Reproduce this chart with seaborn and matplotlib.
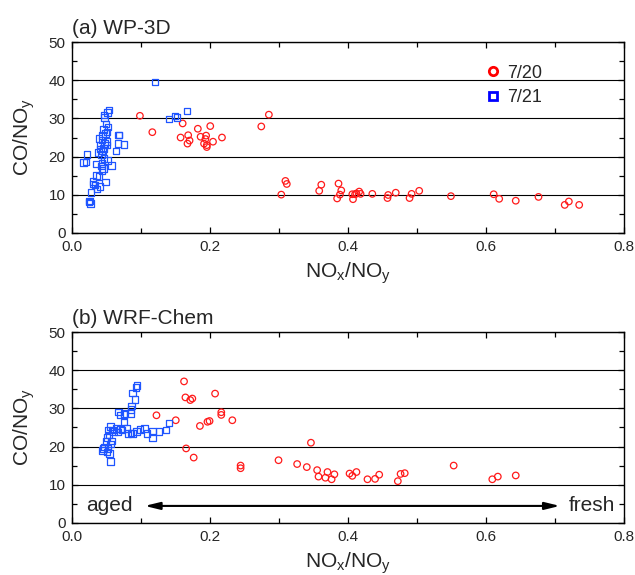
import matplotlib
matplotlib.use("Agg")
import matplotlib.pyplot as plt
from matplotlib.lines import Line2D
from matplotlib.ticker import MultipleLocator, FormatStrFormatter
import seaborn as sns
import pandas as pd

# (a) WP-3D observations
obs_0720_x = [0.098, 0.116, 0.160, 0.182, 0.200, 0.157, 0.168, 0.170, 0.167, 0.186,
              0.194, 0.193, 0.191, 0.195, 0.195, 0.204, 0.217, 0.274, 0.285, 0.303,
              0.309, 0.311, 0.361, 0.358, 0.386, 0.390, 0.388, 0.384, 0.407, 0.406,
              0.410, 0.412, 0.416, 0.418, 0.435, 0.457, 0.458, 0.469, 0.489, 0.492,
              0.503, 0.549, 0.611, 0.619, 0.643, 0.676, 0.714, 0.720, 0.735]
obs_0720_y = [30.7, 26.4, 28.7, 27.3, 28.0, 25.0, 25.6, 24.2, 23.4, 25.2,
              25.5, 24.6, 23.4, 23.0, 22.5, 23.9, 25.0, 27.9, 31.0, 10.0,
              13.6, 12.8, 12.6, 11.0, 12.9, 11.1, 10.0, 9.0, 8.8, 10.1,
              10.1, 10.3, 10.8, 10.2, 10.2, 9.1, 9.9, 10.5, 9.1, 10.2,
              11.0, 9.6, 10.1, 8.9, 8.4, 9.4, 7.3, 8.2, 7.3]
obs_0721_x = [0.120, 0.140, 0.149, 0.152, 0.166, 0.053, 0.051, 0.046, 0.047, 0.052,
              0.045, 0.050, 0.039, 0.043, 0.047, 0.040, 0.045, 0.038, 0.042, 0.050,
              0.067, 0.068, 0.066, 0.075, 0.063, 0.021, 0.016, 0.020, 0.034, 0.043,
              0.051, 0.057, 0.045, 0.043, 0.039, 0.030, 0.033, 0.040, 0.036, 0.048,
              0.030, 0.027, 0.025, 0.026, 0.024, 0.044, 0.048, 0.041, 0.049, 0.046,
              0.044, 0.050, 0.042, 0.035]
obs_0721_y = [39.6, 29.8, 30.7, 30.2, 32.0, 32.2, 31.6, 30.9, 30.3, 27.8,
              27.1, 26.5, 24.8, 24.3, 23.4, 23.0, 22.1, 21.0, 20.6, 23.0,
              25.6, 25.6, 23.4, 23.2, 21.5, 20.6, 18.4, 18.6, 18.0, 18.2,
              18.9, 17.6, 16.9, 16.3, 14.7, 13.4, 12.5, 12.2, 11.5, 13.3,
              12.8, 10.5, 8.3, 7.7, 8.0, 25.5, 26.0, 22.0, 28.5, 19.5,
              21.5, 24.0, 17.5, 15.0]

# (b) WRF-Chem model
wrf_0720_x = [0.122, 0.150, 0.162, 0.164, 0.171, 0.174, 0.207, 0.165, 0.176, 0.185,
              0.196, 0.199, 0.216, 0.216, 0.232, 0.244, 0.244, 0.299, 0.326, 0.340,
              0.346, 0.355, 0.357, 0.367, 0.370, 0.376, 0.380, 0.402, 0.406, 0.412,
              0.428, 0.439, 0.445, 0.472, 0.476, 0.482, 0.553, 0.609, 0.617, 0.643]
wrf_0720_y = [28.2, 26.9, 37.1, 32.9, 32.2, 32.6, 33.9, 19.5, 17.1, 25.4,
              26.5, 26.7, 28.3, 29.0, 26.9, 15.0, 14.3, 16.4, 15.4, 14.6,
              21.0, 13.8, 12.1, 11.8, 13.3, 11.4, 12.7, 12.9, 12.3, 13.3,
              11.4, 11.5, 12.6, 10.9, 12.8, 13.0, 15.0, 11.4, 12.1, 12.4]
wrf_0721_x = [0.094, 0.092, 0.091, 0.087, 0.086, 0.085, 0.084, 0.076, 0.069, 0.067,
              0.075, 0.075, 0.055, 0.052, 0.058, 0.064, 0.072, 0.079, 0.081, 0.087,
              0.093, 0.098, 0.105, 0.108, 0.116, 0.116, 0.126, 0.136, 0.140, 0.050,
              0.049, 0.047, 0.045, 0.052, 0.050, 0.055, 0.054, 0.055, 0.057, 0.044,
              0.060, 0.066, 0.070, 0.085, 0.053]
wrf_0721_y = [36.0, 35.5, 32.4, 34.1, 30.6, 29.7, 28.7, 28.7, 28.3, 29.1,
              26.5, 28.4, 25.2, 24.3, 24.3, 24.8, 24.3, 24.8, 23.4, 23.4,
              23.9, 24.5, 24.8, 23.4, 24.1, 22.3, 23.9, 24.3, 26.2, 22.4,
              21.3, 19.9, 19.5, 19.5, 18.6, 20.6, 18.2, 16.1, 21.5, 18.9,
              24.0, 23.8, 24.6, 23.5, 23.0]

days = ["7/20", "7/21"]
day_colors = {"7/20": "#ff1a1a", "7/21": "#1f55ff"}
day_markers = {"7/20": "o", "7/21": "s"}

panels = [
    ("(a) WP-3D", obs_0720_x, obs_0720_y, obs_0721_x, obs_0721_y),
    ("(b) WRF-Chem", wrf_0720_x, wrf_0720_y, wrf_0721_x, wrf_0721_y),
]

sns.set_style("ticks")
plt.rcParams["font.family"] = ["Liberation Sans", "DejaVu Sans"]
plt.rcParams["mathtext.default"] = "regular"

fig = plt.figure(figsize=(6.35, 5.75), dpi=100)
ax_a = fig.add_axes([0.1139, 0.5953, 0.8688, 0.3311])
ax_b = fig.add_axes([0.1139, 0.0910, 0.8688, 0.3311])

xlabel = r"NO$_\mathregular{x}$/NO$_\mathregular{y}$"
ylabel = r"CO/NO$_\mathregular{y}$"

for ax, (title, x20, y20, x21, y21) in zip([ax_a, ax_b], panels):
    df = pd.DataFrame({
        "ratio": x20 + x21,
        "co": y20 + y21,
        "day": ["7/20"] * len(x20) + ["7/21"] * len(x21),
    })
    for day in days:
        sub = df[df["day"] == day]
        sns.scatterplot(data=sub, x="ratio", y="co", ax=ax, marker=day_markers[day],
                        s=22, color=day_colors[day], facecolors="none",
                        edgecolor=day_colors[day], linewidth=0.9, legend=False, zorder=3)

    ax.set_xlim(0, 0.8)
    ax.set_ylim(0, 50)
    ax.xaxis.set_major_locator(MultipleLocator(0.2))
    ax.xaxis.set_minor_locator(MultipleLocator(0.1))
    ax.yaxis.set_major_locator(MultipleLocator(10))
    ax.yaxis.set_minor_locator(MultipleLocator(5))
    ax.xaxis.set_major_formatter(FormatStrFormatter("%.1f"))
    ax.tick_params(which="both", direction="in", top=True, right=True,
                   labelsize=11, width=0.9, pad=5, color="black")
    ax.tick_params(which="major", length=4.5)
    ax.tick_params(which="minor", length=3.5)
    ax.yaxis.grid(True, which="major", color="black", lw=0.8)
    ax.set_axisbelow(True)
    for sp in ax.spines.values():
        sp.set_linewidth(1.0)
        sp.set_color("black")
    ax.set_xlabel(xlabel, fontsize=15, labelpad=5)
    ax.set_ylabel(ylabel, fontsize=15, labelpad=8)
    ax.set_title(title, loc="left", fontsize=15, pad=6)

# legend on panel (a)
handles = [Line2D([], [], linestyle="none", marker=day_markers[d], markersize=6,
                  markerfacecolor="none", markeredgecolor=c, markeredgewidth=2)
           for d, c in [("7/20", "#ff0000"), ("7/21", "#0000ff")]]
ax_a.legend(handles, days, loc="upper left", bbox_to_anchor=(0.73, 0.93),
            frameon=False, fontsize=13, handletextpad=0.3, handlelength=1.0,
            labelspacing=0.4, borderpad=0)

# aged <-> fresh arrow on panel (b)
ax_b.annotate("", xy=(0.105, 4.4), xytext=(0.707, 4.4),
              arrowprops=dict(arrowstyle="<|-|>,head_length=0.9,head_width=0.22",
                              lw=1.5, color="black", shrinkA=0, shrinkB=0))
ax_b.text(0.054, 4.4, "aged", fontsize=15, ha="center", va="center")
ax_b.text(0.753, 4.4, "fresh", fontsize=15, ha="center", va="center")

fig.savefig("out.png", dpi=100)
